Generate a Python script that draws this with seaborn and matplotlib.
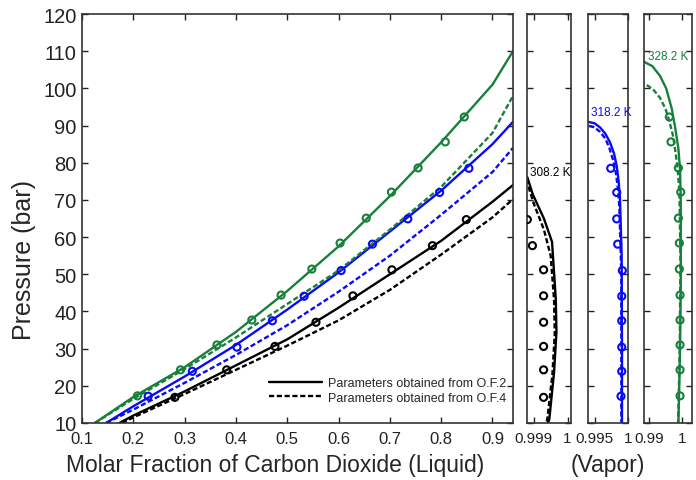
import matplotlib
matplotlib.use("Agg")
import matplotlib.pyplot as plt
import seaborn as sns

sns.set_style("ticks")
plt.rcParams['font.family'] = ['Liberation Sans', 'DejaVu Sans']

# ---- liquid phase (main panel) ----
# model curves, O.F.2 (solid) and O.F.4 (dashed)
x_liq = [0.125, 0.2, 0.3, 0.4, 0.5, 0.6, 0.7, 0.8, 0.9, 0.94]
p328_of2 = [10, 17, 25, 34.5, 45.5, 57.5, 71, 85.5, 101, 110]
p328_of4 = [10, 16.5, 24.5, 33, 42, 51, 62, 73.5, 88, 98]

x_liq318 = [0.147, 0.2, 0.3, 0.4, 0.5, 0.6, 0.7, 0.8, 0.9, 0.94]
p318_of2 = [10, 14.5, 22.5, 31, 40.5, 50.5, 61.5, 72.5, 85, 91]
p318_of4 = [10, 13.6, 20.8, 28.3, 36.3, 45.3, 55, 66, 77.5, 84]

x_liq308 = [0.173, 0.2, 0.3, 0.4, 0.5, 0.6, 0.7, 0.8, 0.9, 0.94]
p308_of2 = [10, 12, 18.5, 25.5, 32.5, 41, 50, 59, 69.5, 74]
x_liq308b = [0.178, 0.2, 0.3, 0.4, 0.5, 0.6, 0.7, 0.8, 0.9, 0.94]
p308_of4 = [10, 11.5, 17.8, 24.3, 30.8, 37.6, 45.8, 55.3, 65.3, 70.2]

# experimental points (liquid)
x328_exp = [0.208, 0.292, 0.363, 0.431, 0.488, 0.548, 0.603, 0.654, 0.703, 0.755, 0.808, 0.845]
p328_exp = [17.3, 24.3, 31.0, 37.7, 44.4, 51.4, 58.4, 65.1, 72.1, 78.6, 85.6, 92.3]
x318_exp = [0.229, 0.315, 0.402, 0.471, 0.533, 0.605, 0.666, 0.735, 0.797, 0.854]
p318_exp = [17.2, 23.9, 30.4, 37.5, 44.1, 51.0, 58.1, 64.9, 72.0, 78.5]
x308_exp = [0.281, 0.382, 0.476, 0.556, 0.628, 0.704, 0.783, 0.849]
p308_exp = [16.9, 24.3, 30.6, 37.1, 44.2, 51.2, 57.7, 64.7]

# ---- vapor phase ----
yv308_of2 = [0.9985, 0.99881, 0.99897, 0.9993, 0.99954, 0.99965, 0.99967, 0.9996, 0.99946, 0.99942]
pv308_of2 = [77.5, 76.1, 71.5, 65, 58.7, 43.4, 34.5, 23.7, 11.1, 10]
yv308_of4 = [0.9985, 0.99881, 0.999, 0.9993, 0.9995, 0.9996, 0.99962, 0.99955, 0.9994, 0.99937]
pv308_of4 = [76, 74.5, 69, 62, 55, 43, 34, 23, 11, 10]
yv308_exp = [0.99929, 0.99929, 0.99929, 0.99929, 0.99929, 0.99929, 0.99896, 0.99881]

yv318_of2 = [0.993, 0.994, 0.995, 0.9958, 0.9966, 0.9973, 0.9979, 0.9983, 0.9986,
             0.9988, 0.99905, 0.9991, 0.9991]
pv318_of2 = [91.3, 91.0, 90.6, 89.5, 87.8, 85.5, 82.5, 79.2, 75, 70.2, 55, 30, 10]
yv318_of4 = [0.993, 0.994, 0.995, 0.9958, 0.9966, 0.9972, 0.9978, 0.9982, 0.9985,
             0.9987, 0.999, 0.999, 0.999]
pv318_of4 = [90.2, 90.0, 89.5, 88.3, 86.5, 84, 80.5, 77, 73, 68, 50, 30, 10]
yv318_exp = [0.99895, 0.99906, 0.99906, 0.99906, 0.99906, 0.99915, 0.99845, 0.99831,
             0.99831, 0.99741]

yv328_of2 = [0.985, 0.9888, 0.991, 0.9933, 0.9952, 0.9969, 0.998, 0.9989, 0.9994,
             0.9996, 0.99965, 0.9994, 0.9989]
pv328_of2 = [108.5, 107.0, 106, 103.4, 100, 94.5, 89, 83.7, 78, 70, 50, 30, 10]
yv328_of4 = [0.985, 0.9888, 0.9912, 0.9933, 0.995, 0.9962, 0.9972, 0.998, 0.9987,
             0.9992, 0.9995, 0.9993, 0.9988]
pv328_of4 = [102.5, 101.2, 99.8, 97.5, 94.5, 91, 87.5, 83, 78, 72, 55, 30, 10]
yv328_exp = [0.99939, 0.99939, 0.99939, 0.99939, 0.99939, 0.99918, 0.99918, 0.99888,
             0.9996, 0.99888, 0.99667, 0.99615]

green = '#17803a'
blue = '#0a0af5'
black = '#000000'
dash = (0, (2.2, 1.1))

fig = plt.figure(figsize=(6.96, 4.81), dpi=100)
ax = fig.add_axes([82/696, 57/481, 431/696, 409/481])
ax1 = fig.add_axes([527/696, 57/481, 44/696, 409/481])
ax2 = fig.add_axes([588/696, 57/481, 40/696, 409/481])
ax3 = fig.add_axes([644/696, 57/481, 48/696, 409/481])


def curve(a, x, y, c, ls='-'):
    sns.lineplot(x=x, y=y, ax=a, color=c, linestyle=ls, linewidth=1.7,
                 sort=False, estimator=None)


def points(a, x, y, c):
    sns.scatterplot(x=x, y=y, ax=a, marker='o', s=26, facecolor='none',
                    edgecolor=c, linewidth=1.5, zorder=5)


# main panel
curve(ax, x_liq308, p308_of2, black)
curve(ax, x_liq308b, p308_of4, black, dash)
curve(ax, x_liq318, p318_of2, blue)
curve(ax, x_liq318, p318_of4, blue, dash)
curve(ax, x_liq, p328_of2, green)
curve(ax, x_liq, p328_of4, green, dash)
points(ax, x308_exp, p308_exp, black)
points(ax, x318_exp, p318_exp, blue)
points(ax, x328_exp, p328_exp, green)

ax.set_xlim(0.1, 0.94)
ax.set_xticks([0.1, 0.2, 0.3, 0.4, 0.5, 0.6, 0.7, 0.8, 0.9])
ax.set_xticklabels(['0.1', '0.2', '0.3', '0.4', '0.5', '0.6', '0.7', '0.8', '0.9'])
ax.set_xlabel('Molar Fraction of Carbon Dioxide (Liquid)', fontsize=16.5)
ax.set_ylabel('Pressure (bar)', fontsize=18)
ax.xaxis.set_label_coords(0.448, -0.074)
ax.yaxis.set_label_coords(-0.107, 0.40)

h1, = ax.plot([], [], color='k', lw=1.7, ls='-')
h2, = ax.plot([], [], color='k', lw=1.7, ls=dash)
ax.legend([h1, h2], ['Parameters obtained from O.F.2', 'Parameters obtained from O.F.4'],
          loc='lower right', bbox_to_anchor=(1.01, 0.02), frameon=False,
          fontsize=9, handlelength=4.2, handletextpad=0.5, labelspacing=0.2)

# vapor panels
curve(ax1, yv308_of2, pv308_of2, black)
curve(ax1, yv308_of4, pv308_of4, black, dash)
points(ax1, yv308_exp, p308_exp, black)
ax1.set_xlim(0.9988, 1.0001)
ax1.set_xticks([0.999, 1.0])
ax1.set_xticklabels(['0.999', '1'])

curve(ax2, yv318_of2, pv318_of2, blue)
curve(ax2, yv318_of4, pv318_of4, blue, dash)
points(ax2, yv318_exp, p318_exp, blue)
ax2.set_xlim(0.994, 1.0)
ax2.set_xticks([0.995, 1.0])
ax2.set_xticklabels(['0.995', '1'])

curve(ax3, yv328_of2, pv328_of2, green)
curve(ax3, yv328_of4, pv328_of4, green, dash)
points(ax3, yv328_exp, p328_exp, green)
ax3.set_xlim(0.9885, 1.0030)
ax3.set_xticks([0.99, 1.0])
ax3.set_xticklabels(['0.99', '1'])

ax1.text(0.07, 77.5, '308.2 K', color=black, fontsize=8.5, va='center',
         transform=ax1.get_yaxis_transform())
ax2.text(0.08, 93.6, '318.2 K', color=blue, fontsize=8.5, va='center',
         transform=ax2.get_yaxis_transform())
ax3.text(0.08, 108.7, '328.2 K', color=green, fontsize=8.5, va='center',
         transform=ax3.get_yaxis_transform())
ax2.set_xlabel('(Vapor)', fontsize=16.5)
ax2.xaxis.set_label_coords(0.5, -0.074)

for a in (ax, ax1, ax2, ax3):
    a.set_ylim(10, 120)
    a.set_yticks(range(10, 121, 10))
    a.tick_params(direction='in', length=4, width=1, top=True, right=True,
                  pad=4, colors='#222222', labelcolor='#222222')
    a.tick_params(axis='y', labelsize=14.5)
    a.tick_params(axis='x', pad=6)
ax.tick_params(axis='x', labelsize=12)
for a in (ax1, ax2, ax3):
    a.set_yticklabels([])
    a.set_ylabel('')
    a.tick_params(axis='x', labelsize=11)
for a in (ax, ax1, ax2, ax3):
    for s in a.spines.values():
        s.set_linewidth(1.2)
        s.set_color('#333333')

fig.savefig('out.png', dpi=100)
